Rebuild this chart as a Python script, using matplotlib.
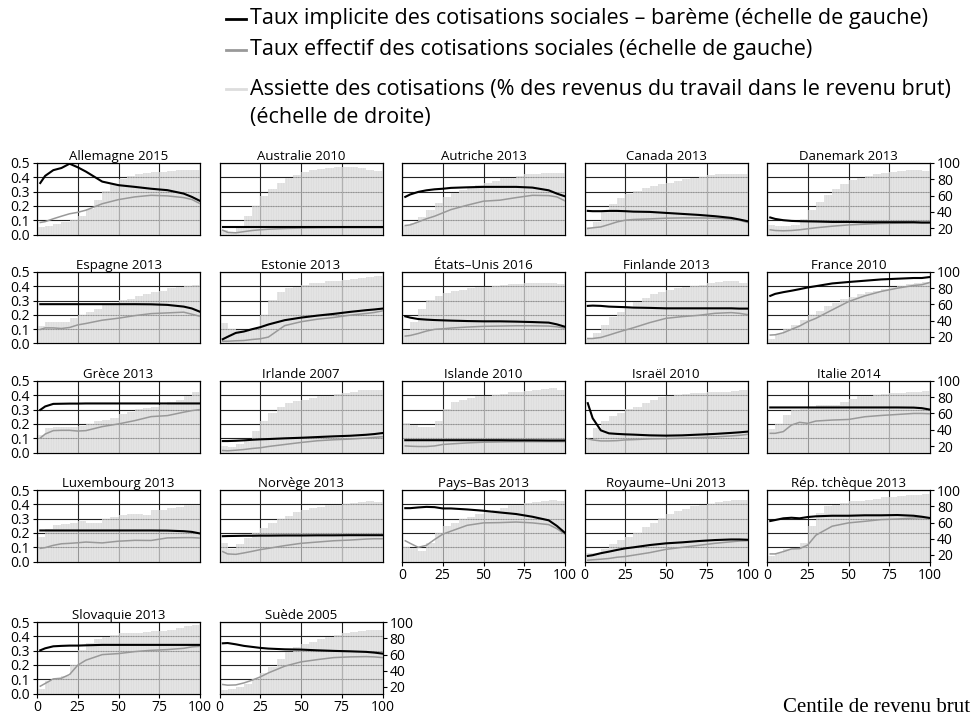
import numpy as np
import matplotlib
matplotlib.use("Agg")
import matplotlib.pyplot as plt
from matplotlib.lines import Line2D
from matplotlib.ticker import FormatStrFormatter

plt.rcParams['font.family'] = ['Open Sans', 'DejaVu Sans']
plt.rcParams['hatch.linewidth'] = 0.35

countries = ["Allemagne 2015", "Australie 2010", "Autriche 2013", "Canada 2013", "Danemark 2013",
             "Espagne 2013", "Estonie 2013", "États–Unis 2016", "Finlande 2013", "France 2010",
             "Grèce 2013", "Irlande 2007", "Islande 2010", "Israël 2010", "Italie 2014",
             "Luxembourg 2013", "Norvège 2013", "Pays–Bas 2013", "Royaume–Uni 2013", "Rép. tchèque 2013",
             "Slovaquie 2013", "Suède 2005"]

# centiles where the two rates were read
line_x = [2, 5, 10, 15, 20, 25, 30, 40, 50, 60, 70, 80, 90, 95, 100]
# centre of each 5-centile group of bars
bar_x = np.arange(2.5, 100, 5)

# taux implicite (barème), échelle de gauche
bareme = {
    "Allemagne 2015": [0.36, 0.41, 0.45, 0.465, 0.495, 0.47, 0.44, 0.37, 0.345, 0.333, 0.32, 0.31, 0.286, 0.263, 0.235],
    "Australie 2010": [0.055, 0.055, 0.055, 0.055, 0.055, 0.055, 0.055, 0.055, 0.055, 0.055, 0.055, 0.055, 0.055, 0.055, 0.055],
    "Autriche 2013": [0.263, 0.28, 0.298, 0.309, 0.316, 0.32, 0.326, 0.33, 0.333, 0.333, 0.333, 0.328, 0.309, 0.286, 0.267],
    "Canada 2013": [0.165, 0.163, 0.163, 0.165, 0.165, 0.163, 0.16, 0.158, 0.151, 0.144, 0.137, 0.128, 0.116, 0.105, 0.093],
    "Danemark 2013": [0.119, 0.109, 0.1, 0.095, 0.093, 0.092, 0.091, 0.088, 0.088, 0.086, 0.086, 0.086, 0.086, 0.084, 0.084],
    "Espagne 2013": [0.275, 0.275, 0.275, 0.275, 0.275, 0.275, 0.275, 0.275, 0.275, 0.275, 0.274, 0.27, 0.258, 0.245, 0.222],
    "Estonie 2013": [0.03, 0.047, 0.074, 0.084, 0.1, 0.114, 0.133, 0.163, 0.181, 0.195, 0.207, 0.221, 0.233, 0.238, 0.244],
    "États–Unis 2016": [0.19, 0.181, 0.171, 0.167, 0.164, 0.162, 0.16, 0.157, 0.155, 0.155, 0.153, 0.15, 0.146, 0.134, 0.117],
    "Finlande 2013": [0.263, 0.265, 0.263, 0.258, 0.256, 0.254, 0.251, 0.249, 0.246, 0.246, 0.246, 0.246, 0.246, 0.244, 0.244],
    "France 2010": [0.333, 0.347, 0.359, 0.369, 0.38, 0.392, 0.401, 0.42, 0.43, 0.439, 0.448, 0.453, 0.458, 0.458, 0.465],
    "Grèce 2013": [0.298, 0.322, 0.34, 0.341, 0.342, 0.342, 0.343, 0.343, 0.343, 0.343, 0.343, 0.343, 0.343, 0.343, 0.343],
    "Irlande 2007": [0.08, 0.08, 0.082, 0.085, 0.089, 0.092, 0.094, 0.099, 0.103, 0.108, 0.113, 0.117, 0.124, 0.129, 0.136],
    "Islande 2010": [0.086, 0.086, 0.086, 0.086, 0.086, 0.086, 0.086, 0.086, 0.086, 0.086, 0.085, 0.085, 0.084, 0.084, 0.084],
    "Israël 2010": [0.345, 0.24, 0.155, 0.134, 0.13, 0.127, 0.125, 0.12, 0.118, 0.12, 0.125, 0.13, 0.137, 0.141, 0.146],
    "Italie 2014": [0.315, 0.315, 0.315, 0.315, 0.315, 0.315, 0.315, 0.315, 0.315, 0.315, 0.315, 0.315, 0.314, 0.31, 0.3],
    "Luxembourg 2013": [0.217, 0.217, 0.217, 0.217, 0.217, 0.217, 0.217, 0.217, 0.217, 0.217, 0.217, 0.216, 0.212, 0.207, 0.196],
    "Norvège 2013": [0.177, 0.178, 0.179, 0.18, 0.18, 0.181, 0.181, 0.182, 0.182, 0.183, 0.183, 0.184, 0.184, 0.184, 0.184],
    "Pays–Bas 2013": [0.373, 0.373, 0.378, 0.382, 0.38, 0.371, 0.371, 0.364, 0.355, 0.343, 0.332, 0.313, 0.288, 0.249, 0.2],
    "Royaume–Uni 2013": [0.039, 0.044, 0.058, 0.069, 0.081, 0.092, 0.099, 0.115, 0.127, 0.134, 0.143, 0.15, 0.154, 0.154, 0.152],
    "Rép. tchèque 2013": [0.283, 0.29, 0.302, 0.306, 0.302, 0.311, 0.316, 0.32, 0.32, 0.323, 0.323, 0.325, 0.32, 0.313, 0.304],
    "Slovaquie 2013": [0.302, 0.316, 0.33, 0.333, 0.335, 0.335, 0.337, 0.34, 0.34, 0.34, 0.34, 0.34, 0.34, 0.34, 0.34],
    "Suède 2005": [0.351, 0.353, 0.344, 0.333, 0.326, 0.319, 0.314, 0.309, 0.307, 0.302, 0.298, 0.295, 0.291, 0.286, 0.279],
}

# taux effectif, échelle de gauche
effectif = {
    "Allemagne 2015": [0.084, 0.09, 0.11, 0.128, 0.145, 0.155, 0.17, 0.215, 0.244, 0.263, 0.274, 0.27, 0.258, 0.245, 0.216],
    "Australie 2010": [0.03, 0.015, 0.012, 0.02, 0.028, 0.033, 0.037, 0.042, 0.045, 0.047, 0.048, 0.048, 0.048, 0.048, 0.048],
    "Autriche 2013": [0.063, 0.067, 0.088, 0.11, 0.128, 0.151, 0.174, 0.205, 0.233, 0.24, 0.258, 0.274, 0.272, 0.263, 0.235],
    "Canada 2013": [0.042, 0.047, 0.053, 0.07, 0.088, 0.1, 0.105, 0.109, 0.114, 0.116, 0.116, 0.114, 0.109, 0.1, 0.084],
    "Danemark 2013": [0.033, 0.028, 0.026, 0.028, 0.033, 0.04, 0.047, 0.058, 0.067, 0.072, 0.077, 0.079, 0.081, 0.081, 0.081],
    "Espagne 2013": [0.098, 0.109, 0.109, 0.105, 0.112, 0.13, 0.14, 0.163, 0.177, 0.195, 0.209, 0.214, 0.219, 0.205, 0.19],
    "Estonie 2013": [0.016, 0.016, 0.019, 0.021, 0.028, 0.033, 0.045, 0.125, 0.152, 0.17, 0.182, 0.198, 0.21, 0.217, 0.228],
    "États–Unis 2016": [0.052, 0.056, 0.07, 0.087, 0.099, 0.103, 0.108, 0.115, 0.12, 0.122, 0.124, 0.124, 0.122, 0.117, 0.106],
    "Finlande 2013": [0.035, 0.035, 0.042, 0.059, 0.077, 0.094, 0.11, 0.146, 0.176, 0.188, 0.197, 0.211, 0.216, 0.211, 0.202],
    "France 2010": [0.059, 0.061, 0.075, 0.099, 0.122, 0.153, 0.176, 0.235, 0.293, 0.333, 0.364, 0.387, 0.406, 0.411, 0.427],
    "Grèce 2013": [0.101, 0.129, 0.153, 0.155, 0.155, 0.15, 0.153, 0.181, 0.2, 0.223, 0.251, 0.258, 0.282, 0.293, 0.3],
    "Irlande 2007": [0.014, 0.012, 0.016, 0.021, 0.028, 0.033, 0.042, 0.056, 0.07, 0.082, 0.089, 0.094, 0.101, 0.106, 0.11],
    "Islande 2010": [0.046, 0.044, 0.042, 0.042, 0.046, 0.056, 0.06, 0.067, 0.072, 0.074, 0.076, 0.076, 0.076, 0.076, 0.076],
    "Israël 2010": [0.095, 0.088, 0.081, 0.081, 0.083, 0.088, 0.09, 0.095, 0.097, 0.1, 0.104, 0.109, 0.116, 0.12, 0.127],
    "Italie 2014": [0.134, 0.134, 0.146, 0.192, 0.211, 0.204, 0.22, 0.227, 0.231, 0.25, 0.259, 0.266, 0.273, 0.273, 0.271],
    "Luxembourg 2013": [0.092, 0.097, 0.113, 0.124, 0.127, 0.131, 0.136, 0.13, 0.142, 0.148, 0.147, 0.165, 0.167, 0.167, 0.164],
    "Norvège 2013": [0.069, 0.053, 0.05, 0.06, 0.071, 0.083, 0.092, 0.111, 0.127, 0.136, 0.145, 0.15, 0.157, 0.159, 0.159],
    "Pays–Bas 2013": [0.145, 0.127, 0.099, 0.113, 0.154, 0.191, 0.212, 0.253, 0.27, 0.272, 0.276, 0.27, 0.258, 0.23, 0.191],
    "Royaume–Uni 2013": [0.009, 0.012, 0.016, 0.021, 0.03, 0.035, 0.044, 0.062, 0.085, 0.099, 0.113, 0.127, 0.138, 0.143, 0.145],
    "Rép. tchèque 2013": [0.053, 0.053, 0.069, 0.088, 0.09, 0.115, 0.184, 0.247, 0.27, 0.281, 0.293, 0.297, 0.304, 0.306, 0.306],
    "Slovaquie 2013": [0.051, 0.07, 0.102, 0.107, 0.133, 0.198, 0.233, 0.272, 0.279, 0.293, 0.302, 0.307, 0.316, 0.326, 0.33],
    "Suède 2005": [0.063, 0.058, 0.06, 0.074, 0.093, 0.116, 0.144, 0.191, 0.221, 0.237, 0.251, 0.256, 0.258, 0.256, 0.251],
}

# assiette des cotisations (% des revenus du travail), échelle de droite
assiette = {
    "Allemagne 2015": [21, 22, 25, 27, 30, 35, 44, 54, 65, 74, 80, 84, 87, 88, 89, 89, 90, 92, 92, 92],
    "Australie 2010": [17, 15, 23, 35, 47, 60, 68, 75, 82, 85, 89, 91, 93, 94, 95, 95, 95, 94, 92, 90],
    "Autriche 2013": [23, 26, 33, 42, 51, 58, 63, 67, 70, 73, 75, 78, 81, 82, 84, 86, 87, 88, 88, 88],
    "Canada 2013": [21, 28, 40, 50, 57, 62, 66, 69, 72, 74, 76, 78, 80, 82, 83, 85, 86, 87, 87, 86],
    "Danemark 2013": [24, 23, 22, 24, 31, 42, 52, 61, 68, 74, 79, 82, 84, 86, 88, 89, 90, 91, 91, 90],
    "Espagne 2013": [34, 39, 39, 38, 43, 47, 51, 55, 60, 62, 65, 67, 70, 73, 75, 77, 80, 82, 83, 84],
    "Estonie 2013": [37, 30, 28, 28, 30, 47, 65, 75, 80, 82, 84, 86, 87, 89, 89, 90, 91, 93, 94, 95],
    "États–Unis 2016": [28, 38, 54, 65, 70, 74, 76, 78, 80, 82, 82, 83, 84, 85, 85, 86, 86, 86, 86, 85],
    "Finlande 2013": [18, 25, 35, 44, 51, 57, 63, 68, 73, 75, 78, 80, 82, 83, 84, 86, 88, 89, 89, 87],
    "France 2010": [17, 24, 30, 35, 41, 47, 52, 58, 62, 67, 69, 73, 75, 77, 79, 81, 83, 85, 87, 88],
    "Grèce 2013": [33, 42, 44, 44, 44, 45, 47, 51, 52, 54, 59, 62, 65, 67, 68, 71, 74, 77, 82, 87],
    "Irlande 2007": [20, 19, 23, 28, 38, 51, 61, 68, 73, 75, 77, 79, 81, 82, 84, 85, 87, 89, 89, 89],
    "Islande 2010": [48, 46, 43, 43, 51, 65, 74, 77, 79, 81, 82, 83, 84, 86, 87, 88, 89, 90, 91, 89],
    "Israël 2010": [28, 42, 51, 57, 61, 65, 68, 73, 76, 80, 82, 83, 84, 85, 85, 86, 86, 87, 88, 89],
    "Italie 2014": [41, 47, 58, 64, 66, 67, 70, 70, 71, 74, 78, 81, 82, 83, 84, 85, 85, 86, 86, 88],
    "Luxembourg 2013": [42, 52, 57, 58, 60, 62, 59, 59, 64, 67, 69, 70, 70, 69, 75, 76, 78, 79, 81, 82],
    "Norvège 2013": [35, 28, 33, 41, 47, 53, 59, 64, 68, 73, 75, 78, 79, 81, 82, 83, 84, 85, 86, 85],
    "Pays–Bas 2013": [30, 29, 25, 35, 47, 56, 60, 64, 67, 70, 73, 76, 78, 81, 82, 84, 85, 87, 88, 87],
    "Royaume–Uni 2013": [23, 23, 28, 33, 38, 42, 47, 54, 60, 66, 70, 74, 77, 80, 82, 83, 85, 87, 88, 88],
    "Rép. tchèque 2013": [19, 23, 27, 28, 35, 56, 72, 80, 82, 84, 86, 87, 88, 89, 91, 92, 93, 94, 94, 95],
    "Slovaquie 2013": [18, 28, 30, 34, 47, 65, 74, 79, 82, 84, 86, 86, 87, 88, 89, 89, 90, 93, 95, 96],
    "Suède 2005": [16, 17, 20, 24, 30, 37, 45, 55, 63, 69, 73, 76, 79, 82, 84, 86, 88, 89, 90, 90],
}

W, H = 974, 727
fig = plt.figure(figsize=(W / 100, H / 100), dpi=100)

lefts = [37, 219.5, 402, 584.5, 767]
tops = [163, 272, 381, 490, 622]
pw, ph = 163, 71.5

for i, c in enumerate(countries):
    row, col = divmod(i, 5)
    rect = [lefts[col] / W, 1 - (tops[row] + ph) / H, pw / W, ph / H]
    ax = fig.add_axes(rect)
    axb = ax.twinx()
    axl = ax.twinx()

    ax.set_xlim(0, 100)
    ax.set_ylim(0, 0.5)
    ax.set_xticks([0, 25, 50, 75, 100])
    ax.set_yticks(np.arange(0, 0.51, 0.1))
    ax.yaxis.set_major_formatter(FormatStrFormatter('%.1f'))
    ax.grid(True, color='#222222', lw=0.8)

    axb.set_ylim(12, 100)
    axb.set_yticks([20, 40, 60, 80, 100])
    axb.bar(bar_x, assiette[c], width=5, color='#cccccc', edgecolor='#f5f5f5',
            hatch='||||||||||', linewidth=0, alpha=0.65)

    axl.set_ylim(0, 0.5)
    axl.set_axis_off()
    axl.plot(line_x, effectif[c], color='#999999', lw=1.1)
    axl.plot(line_x, bareme[c], color='black', lw=1.5)

    bottom = (row == 3 and col >= 2) or row == 4
    left = col == 0
    right = col == 4 or i == len(countries) - 1
    ax.tick_params(axis='x', bottom=bottom, labelbottom=bottom, length=3, labelsize=10, pad=2)
    ax.tick_params(axis='y', left=left, labelleft=left, length=3, labelsize=10, pad=2)
    axb.tick_params(axis='y', right=right, labelright=right, length=3, labelsize=10, pad=2)
    for a in (ax, axb):
        for s in a.spines.values():
            s.set_linewidth(0.8)
    ax.set_title(c, fontsize=9.5, pad=2)

# legend, drawn by hand so that the third entry's mark sits on its first line
leg_colors = ['black', '#999999', '#dddddd']
leg_labels = ["Taux implicite des cotisations sociales – barème (échelle de gauche)",
              "Taux effectif des cotisations sociales (échelle de gauche)",
              "Assiette des cotisations (% des revenus du travail dans le revenu brut)"]
leg_rows = [18.5, 49.5, 89]
for col_, lab, yy in zip(leg_colors, leg_labels, leg_rows):
    fig.add_artist(Line2D([226 / W, 246 / W], [1 - yy / H, 1 - yy / H], color=col_, lw=2))
    fig.text(250 / W, 1 - yy / H, lab, fontsize=15.5, va='center', ha='left')
fig.text(250 / W, 1 - 117.5 / H, "(échelle de droite)", fontsize=15.5, va='center', ha='left')

fig.text(0.996, 1 - 708 / H, "Centile de revenu brut", ha='right', va='center',
         family='Liberation Serif', fontsize=15)

fig.savefig("out.png", dpi=100)
